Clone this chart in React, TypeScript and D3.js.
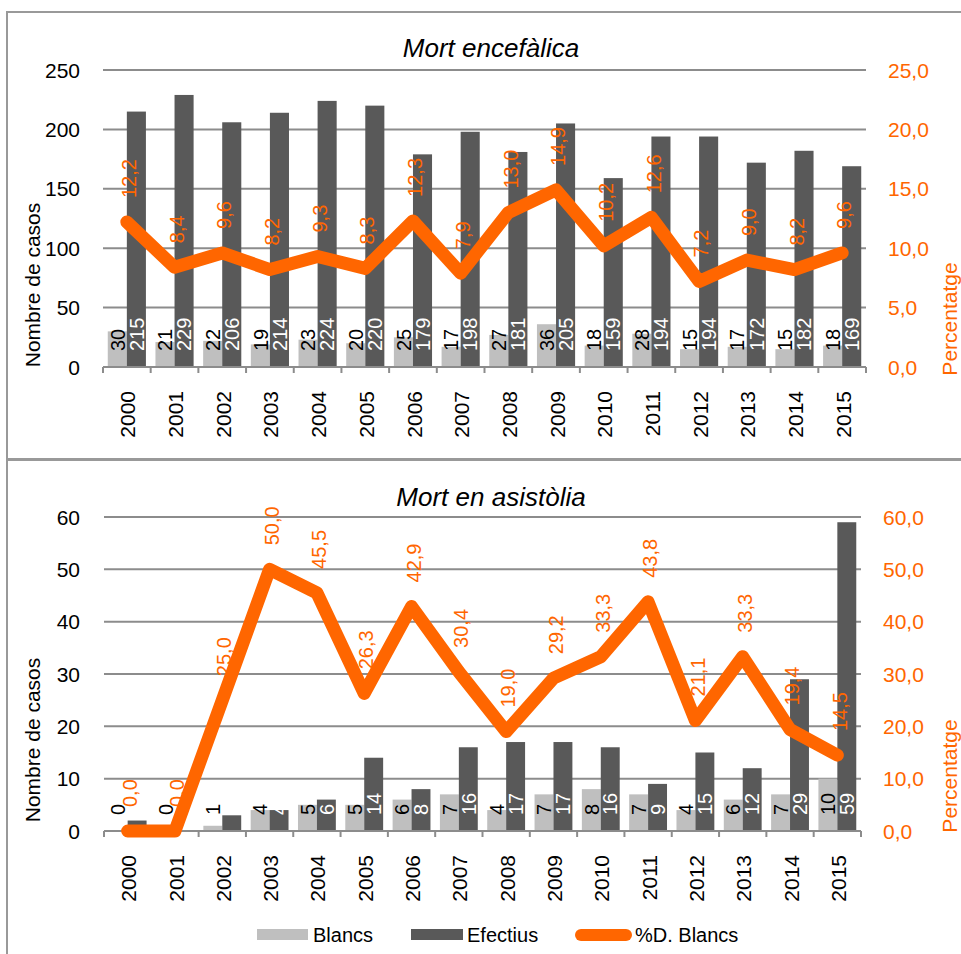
import React from "react";
import * as d3 from "d3";

// data
const years = ["2000", "2001", "2002", "2003", "2004", "2005", "2006", "2007", "2008", "2009", "2010", "2011", "2012", "2013", "2014", "2015"];

const encBlancs = [30, 21, 22, 19, 23, 20, 25, 17, 27, 36, 18, 28, 15, 17, 15, 18];
const encEfectius = [215, 229, 206, 214, 224, 220, 179, 198, 181, 205, 159, 194, 194, 172, 182, 169];
const encPct = [12.2, 8.4, 9.6, 8.2, 9.3, 8.3, 12.3, 7.9, 13.0, 14.9, 10.2, 12.6, 7.2, 9.0, 8.2, 9.6];

const asiBlancs = [0, 0, 1, 4, 5, 5, 6, 7, 4, 7, 8, 7, 4, 6, 7, 10];
const asiEfectius = [2, 0, 3, 4, 6, 14, 8, 16, 17, 17, 16, 9, 15, 12, 29, 59];
const asiPct = [0.0, 0.0, 25.0, 50.0, 45.5, 26.3, 42.9, 30.4, 19.0, 29.2, 33.3, 43.8, 21.1, 33.3, 19.4, 14.5];

const encTicks = [0, 50, 100, 150, 200, 250];
const encPctTicks = [0, 5, 10, 15, 20, 25];
const asiTicks = [0, 10, 20, 30, 40, 50, 60];
const asiPctTicks = [0, 10, 20, 30, 40, 50, 60];

const LIGHT = "#bfbfbf";
const DARK = "#595959";
const ORANGE = "#ff6600";
const GRID = "#8c8c8c";
const FONT = "'Liberation Sans', Arial, sans-serif";

const fmt = (v) => v.toFixed(1).replace(".", ",");

function Panel({ title, titleY, blancs, efectius, pct, ticks, pctTicks, x0, x1, yBottom, yTop, rightX, leftTitleY, rightTitleY }) {
    const x = d3.scaleBand().domain(years).range([x0, x1]).paddingInner(0.2).paddingOuter(0.1);
    const sub = d3.scaleBand().domain(["b", "e"]).range([0, x.bandwidth()]);
    const y = d3.scaleLinear().domain([0, d3.max(ticks)]).range([yBottom, yTop]);
    const y2 = d3.scaleLinear().domain([0, d3.max(pctTicks)]).range([yBottom, yTop]);
    const cx = (yr) => x(yr) + x.bandwidth() / 2;
    const line = d3.line().x((d, i) => cx(years[i])).y((d) => y2(d));
    const bounds = d3.range(years.length + 1).map((i) => x0 + i * (x1 - x0) / years.length);

    return (
        <g fontFamily={FONT}>
            <text x={491} y={titleY} fontSize={26} fontStyle="italic" textAnchor="middle">{title}</text>
            {ticks.map((t) => (
                <g key={"g" + t}>
                    <line x1={x0} x2={x1} y1={y(t)} y2={y(t)} stroke={GRID} strokeWidth={2} />
                    <text x={80} y={y(t)} dy="0.36em" fontSize={21} textAnchor="end">{t}</text>
                </g>
            ))}
            {pctTicks.map((t) => (
                <text key={"p" + t} x={rightX} y={y2(t)} dy="0.36em" fontSize={21} fill={ORANGE}>{fmt(t)}</text>
            ))}
            {bounds.map((bx, i) => (
                <line key={"t" + i} x1={bx} x2={bx} y1={yBottom} y2={yBottom + 6} stroke={GRID} strokeWidth={2} />
            ))}
            {years.map((yr, i) => (
                <g key={yr}>
                    <rect x={x(yr) + sub("b")} y={y(blancs[i])} width={sub.bandwidth()} height={yBottom - y(blancs[i])} fill={LIGHT} />
                    <rect x={x(yr) + sub("e")} y={y(efectius[i])} width={sub.bandwidth()} height={yBottom - y(efectius[i])} fill={DARK} />
                </g>
            ))}
            <line x1={x0} x2={x1} y1={yBottom} y2={yBottom} stroke={GRID} strokeWidth={2} />
            {years.map((yr, i) => {
                const bx = x(yr) + sub("b") + sub.bandwidth() / 2;
                const ex = x(yr) + sub("e") + sub.bandwidth() / 2;
                const ly = yBottom - 16;
                return (
                    <g key={"l" + yr} fontSize={20}>
                        <text transform={`translate(${bx},${ly}) rotate(-90)`} dy="0.36em" fill="#000">{blancs[i]}</text>
                        <text transform={`translate(${ex},${ly}) rotate(-90)`} dy="0.36em" fill="#fff">{efectius[i]}</text>
                        <text transform={`translate(${cx(yr) + 1},${yBottom + 24}) rotate(-90)`} dy="0.36em" fontSize={21} textAnchor="end">{yr}</text>
                    </g>
                );
            })}
            <path d={line(pct)} fill="none" stroke={ORANGE} strokeWidth={13} strokeLinejoin="round" strokeLinecap="round" />
            {years.map((yr, i) => (
                <text key={"pl" + yr} transform={`translate(${cx(yr) + 2},${y2(pct[i]) - 24}) rotate(-90)`} dy="0.36em" fontSize={20} fill={ORANGE}>{fmt(pct[i])}</text>
            ))}
            <text transform={`translate(32,${leftTitleY}) rotate(-90)`} dy="0.36em" fontSize={21} textAnchor="middle">Nombre de casos</text>
            <text transform={`translate(949,${rightTitleY}) rotate(-90)`} dy="0.36em" fontSize={21} textAnchor="middle" fill={ORANGE}>Percentatge</text>
        </g>
    );
}

export default function App() {
    return (
        <svg width={961} height={954} style={{ position: "absolute", left: 0, top: 0, background: "#fff" }}>
            <rect x={7} y={12} width={970} height={447} fill="none" stroke="#999" strokeWidth={2} />
            <rect x={7} y={460} width={970} height={510} fill="none" stroke="#999" strokeWidth={2} />
            <Panel title="Mort encefàlica" titleY={57} blancs={encBlancs} efectius={encEfectius} pct={encPct}
                ticks={encTicks} pctTicks={encPctTicks} x0={103} x1={866} yBottom={367} yTop={70} rightX={888}
                leftTitleY={285} rightTitleY={319} />
            <Panel title="Mort en asistòlia" titleY={506} blancs={asiBlancs} efectius={asiEfectius} pct={asiPct}
                ticks={asiTicks} pctTicks={asiPctTicks} x0={104} x1={861} yBottom={831} yTop={517} rightX={883}
                leftTitleY={740} rightTitleY={776} />
            <g fontFamily={FONT} fontSize={20}>
                <rect x={257} y={929} width={51} height={11} fill={LIGHT} />
                <text x={313} y={935} dy="0.36em">Blancs</text>
                <rect x={411} y={929} width={52} height={11} fill={DARK} />
                <text x={467} y={935} dy="0.36em">Efectius</text>
                <line x1={581} x2={626} y1={935} y2={935} stroke={ORANGE} strokeWidth={12} strokeLinecap="round" />
                <text x={635} y={935} dy="0.36em">%D. Blancs</text>
            </g>
        </svg>
    );
}
